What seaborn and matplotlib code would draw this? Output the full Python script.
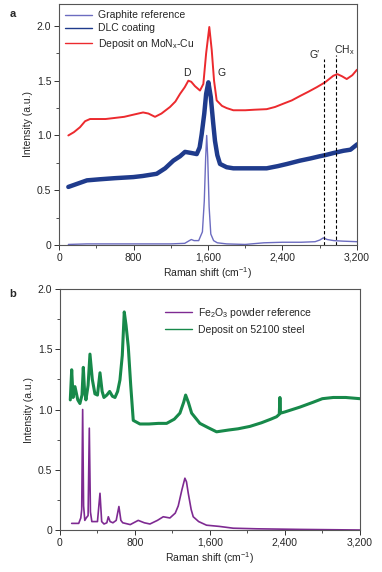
import numpy as np
import pandas as pd
import matplotlib
matplotlib.use("Agg")
import matplotlib.pyplot as plt
import seaborn as sns
from matplotlib.ticker import FuncFormatter, MultipleLocator

# ---------------- DATA ----------------
# panel a : Deposit on MoNx-Cu
red_x = [100, 160, 225, 280, 333, 400, 500, 600, 700, 800, 903, 960, 1031, 1100, 1192, 1250,
         1300, 1350, 1389, 1420, 1460, 1514, 1550, 1580, 1614, 1640, 1665, 1693, 1750, 1800,
         1872, 2000, 2100, 2230, 2320, 2409, 2500, 2588, 2680, 2767, 2857, 2946, 2990, 3040,
         3090, 3150, 3200]
red_y = [1.00, 1.03, 1.075, 1.13, 1.15, 1.15, 1.15, 1.16, 1.17, 1.19, 1.21, 1.20, 1.17, 1.20,
         1.26, 1.31, 1.38, 1.44, 1.50, 1.49, 1.45, 1.41, 1.47, 1.75, 1.99, 1.78, 1.50, 1.32,
         1.27, 1.25, 1.23, 1.23, 1.235, 1.24, 1.26, 1.29, 1.32, 1.36, 1.40, 1.44, 1.485, 1.545,
         1.56, 1.54, 1.515, 1.55, 1.60]

# panel a : DLC coating
dlc_x = [100, 200, 300, 440, 600, 798, 900, 1049, 1140, 1228, 1300, 1353, 1420, 1479, 1510,
         1532, 1560, 1580, 1604, 1630, 1655, 1675, 1700, 1729, 1800, 1872, 2000, 2100, 2230,
         2350, 2450, 2588, 2700, 2800, 2857, 2950, 3054, 3130, 3204]
dlc_y = [0.53, 0.56, 0.59, 0.60, 0.61, 0.62, 0.63, 0.65, 0.70, 0.77, 0.81, 0.85, 0.84, 0.83,
         0.89, 1.01, 1.20, 1.38, 1.485, 1.35, 1.12, 0.95, 0.82, 0.74, 0.71, 0.70, 0.70, 0.70,
         0.70, 0.72, 0.74, 0.77, 0.79, 0.81, 0.82, 0.84, 0.86, 0.87, 0.92]

# panel a : Graphite reference
gra_x = [100, 300, 600, 900, 1200, 1350, 1400, 1421, 1450, 1500, 1540, 1560, 1575, 1586,
         1597, 1612, 1630, 1660, 1700, 1800, 2000, 2200, 2400, 2600, 2750, 2800, 2839,
         2880, 2950, 3050, 3200]
gra_y = [0.005, 0.01, 0.01, 0.01, 0.01, 0.015, 0.04, 0.05, 0.04, 0.04, 0.12, 0.40, 0.80,
         1.00, 0.80, 0.35, 0.10, 0.04, 0.02, 0.01, 0.005, 0.02, 0.025, 0.025, 0.03, 0.045,
         0.065, 0.05, 0.04, 0.035, 0.03]

# panel b : Deposit on 52100 steel
stl_x = [110, 125, 140, 160, 190, 213, 235, 249, 262, 277, 300, 320, 345, 373, 400, 427, 450,
         469, 500, 530, 560, 587, 615, 640, 665, 686, 705, 729, 755, 782, 853, 950, 1050,
         1138, 1220, 1280, 1320, 1341, 1370, 1405, 1493, 1580, 1671, 1800, 1900, 2027, 2150,
         2250, 2311, 2340, 2347, 2354, 2400, 2560, 2700, 2800, 2916, 3050, 3200]
stl_y = [1.08, 1.33, 1.10, 1.19, 1.08, 1.05, 1.12, 1.35, 1.16, 1.08, 1.20, 1.46, 1.25, 1.13,
         1.12, 1.305, 1.15, 1.10, 1.12, 1.15, 1.11, 1.10, 1.15, 1.245, 1.45, 1.81, 1.70, 1.52,
         1.20, 0.91, 0.88, 0.88, 0.885, 0.885, 0.92, 0.97, 1.06, 1.12, 1.06, 0.97, 0.885,
         0.85, 0.815, 0.83, 0.84, 0.86, 0.89, 0.92, 0.94, 0.96, 1.10, 0.97, 0.98, 1.02, 1.06,
         1.09, 1.10, 1.10, 1.09]

# panel b : Fe2O3 powder reference
fe_x = [125, 200, 222, 232, 242, 252, 265, 280, 300, 313, 325, 340, 400, 427, 445, 470, 500,
        516, 535, 565, 600, 629, 650, 670, 750, 835, 900, 960, 1040, 1102, 1173, 1230, 1262,
        1300, 1333, 1350, 1369, 1400, 1422, 1480, 1564, 1700, 1849, 2100, 2560, 3200]
fe_y = [0.055, 0.055, 0.10, 0.17, 1.00, 0.20, 0.08, 0.10, 0.12, 0.845, 0.15, 0.07, 0.07,
        0.305, 0.07, 0.05, 0.06, 0.11, 0.07, 0.06, 0.08, 0.195, 0.08, 0.06, 0.045, 0.08, 0.06,
        0.05, 0.08, 0.11, 0.10, 0.14, 0.20, 0.33, 0.43, 0.40, 0.305, 0.17, 0.11, 0.07, 0.04,
        0.03, 0.015, 0.01, 0.005, 0.0]

x_ticks = [0, 800, 1600, 2400, 3200]
y_ticks = [0, 0.5, 1.0, 1.5, 2.0]

# peak markers (panel a)
dash_x = [2850, 2970]
dash_top = [1.70, 1.73]

# ---------------- STYLE ----------------
sns.set_style("ticks")
plt.rcParams["font.family"] = ["Liberation Sans", "DejaVu Sans"]
plt.rcParams["font.size"] = 7.5
plt.rcParams["axes.linewidth"] = 0.8
plt.rcParams["mathtext.default"] = "regular"

RED = "#ec2a2e"
NAVY = "#1f3b8c"
GRAPH = "#6c6cc0"
PURPLE = "#7e2a92"
GREEN = "#17894a"

fig = plt.figure(figsize=(3.82, 5.72), dpi=100)
ax_a = fig.add_axes([0.1545, 0.5717, 0.780, 0.4213])
ax_b = fig.add_axes([0.157, 0.0734, 0.785, 0.4213])


def y_fmt(v, _):
    return "0" if abs(v) < 1e-9 else f"{v:.1f}"


def style_axis(ax, ymax):
    ax.set_xlim(0, 3200)
    ax.set_ylim(0, ymax)
    ax.set_xticks(x_ticks)
    ax.set_yticks(y_ticks)
    ax.xaxis.set_major_formatter(FuncFormatter(lambda v, _: f"{int(v):,}"))
    ax.yaxis.set_major_formatter(FuncFormatter(y_fmt))
    ax.xaxis.set_minor_locator(MultipleLocator(400))
    ax.yaxis.set_minor_locator(MultipleLocator(0.25))
    ax.tick_params(which="major", direction="out", length=3.5, width=0.7, pad=2,
                   labelsize=7.5, color="#333333")
    ax.tick_params(which="minor", direction="out", length=2, width=0.6, color="#333333")
    for s in ax.spines.values():
        s.set_color("#555555")
    ax.set_xlabel("Raman shift (cm$^{-1}$)", fontsize=7.5, labelpad=2)
    ax.set_ylabel("Intensity (a.u.)", fontsize=7.5, labelpad=3)


# ---------------- PANEL A ----------------
sns.lineplot(x=gra_x, y=gra_y, ax=ax_a, color=GRAPH, lw=1.0, label="Graphite reference")
sns.lineplot(x=dlc_x, y=dlc_y, ax=ax_a, color=NAVY, lw=3.2, label="DLC coating")
sns.lineplot(x=red_x, y=red_y, ax=ax_a, color=RED, lw=1.4,
             label="Deposit on MoN$_x$-Cu")
for xv, top in zip(dash_x, dash_top):
    ax_a.plot([xv, xv], [0, top], color="black", lw=0.8, ls=(0, (3, 2)))
ax_a.text(1375, 1.57, "D", ha="center", va="center", fontsize=7.5)
ax_a.text(1750, 1.57, "G", ha="center", va="center", fontsize=7.5)
ax_a.text(2740, 1.73, "G\u2032", ha="center", va="center", fontsize=7.5)
ax_a.text(3060, 1.78, "CH$_x$", ha="center", va="center", fontsize=7.5)
style_axis(ax_a, 2.2)
leg = ax_a.legend(loc="upper left", frameon=False, fontsize=7.5, handlelength=2.6,
                  handletextpad=0.5, labelspacing=0.3, borderaxespad=0.2,
                  bbox_to_anchor=(0.0, 1.0))
for h in leg.get_lines():
    h.set_linewidth(1.0)

# ---------------- PANEL B ----------------
sns.lineplot(x=fe_x, y=fe_y, ax=ax_b, color=PURPLE, lw=1.2,
             label="Fe$_2$O$_3$ powder reference")
sns.lineplot(x=stl_x, y=stl_y, ax=ax_b, color=GREEN, lw=2.2, label="Deposit on 52100 steel")
style_axis(ax_b, 2.0)
leg = ax_b.legend(loc="upper left", frameon=False, fontsize=7.5, handlelength=2.6,
                  handletextpad=0.5, labelspacing=0.5, bbox_to_anchor=(0.32, 0.97))
for h in leg.get_lines():
    h.set_linewidth(1.0)

fig.text(0.025, 0.985, "a", fontsize=8, fontweight="bold", va="top")
fig.text(0.025, 0.495, "b", fontsize=8, fontweight="bold", va="top")

fig.savefig("out.png", dpi=100)
